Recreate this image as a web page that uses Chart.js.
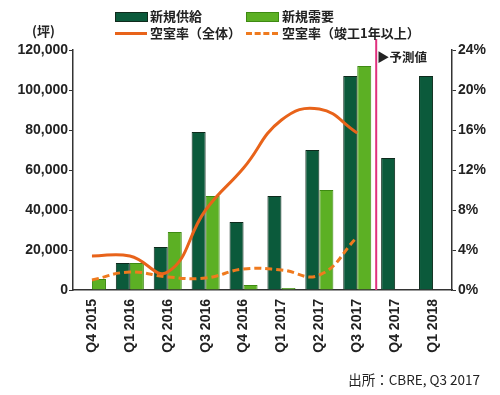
<!DOCTYPE html>
<html>
<head>
<meta charset="utf-8">
<script src="https://cdn.jsdelivr.net/npm/chart.js@4"></script>
<style>
  body { margin: 0; background: #fff; }
  #wrap { position: relative; width: 500px; height: 395px; font-family: "Noto Sans CJK JP", "Noto Sans", sans-serif; color: #222; }
  #chart { position: absolute; left: 0; top: 0; }
  .lg { position: absolute; font-size: 13px; font-weight: bold; line-height: 14px; white-space: nowrap; }
  .box { position: absolute; width: 32px; height: 9px; }
  .ln { position: absolute; width: 32px; height: 0; }
  .note { position: absolute; font-weight: bold; white-space: nowrap; }
</style>
</head>
<body>
<div id="wrap">
  <canvas id="chart" width="500" height="395"></canvas>

  <div class="box" style="left:115px; top:12px; background:#0b5a3b; border:1px solid #102a1c; width:31px; height:8px;"></div>
  <div class="lg" style="left:150px; top:9px;">新規供給</div>
  <div class="box" style="left:246px; top:12px; background:#5cb024; border:1px solid #3e8a12; width:31px; height:8px;"></div>
  <div class="lg" style="left:282px; top:9px;">新規需要</div>

  <div class="ln" style="left:115px; top:32px; border-top:3px solid #e8631a;"></div>
  <div class="lg" style="left:150px; top:26px;">空室率（全体）</div>
  <div class="ln" style="left:246px; top:32px; border-top:3px dashed #ef7a1e;"></div>
  <div class="lg" style="left:282px; top:26px;">空室率（竣工1年以上）</div>

  <div class="note" style="left:32px; top:21px; font-size:13px;">(坪)</div>
  <div class="note" style="left:377px; top:47px; font-size:12.5px;">▶予測値</div>
  <div class="note" style="right:20px; top:369px; font-size:13.5px; font-weight:normal; font-family:'Liberation Sans Narrow','Noto Sans CJK JP',sans-serif;">出所：CBRE, Q3 2017</div>
</div>

<script>
  const quarters = ['Q4 2015', 'Q1 2016', 'Q2 2016', 'Q3 2016', 'Q4 2016', 'Q1 2017', 'Q2 2017', 'Q3 2017', 'Q4 2017', 'Q1 2018'];
  const newSupply = [0, 13500, 21500, 79000, 34000, 47000, 70000, 107000, 66000, 107000];
  const newDemand = [5500, 13500, 29000, 47000, 2500, 1000, 50000, 112000, null, null];
  const vacancyAll = [3.4, 3.4, 1.8, 8.0, 12.2, 17.0, 18.1, 15.7, null, null];
  const vacancyOld = [1.0, 1.8, 1.3, 1.2, 2.1, 2.0, 1.5, 5.3, null, null];
  const leftTicks = [0, 20000, 40000, 60000, 80000, 100000, 120000];
  const rightTicks = [0, 4, 8, 12, 16, 20, 24];

  const tickFont = { family: 'Liberation Sans, sans-serif', size: 14, weight: 'bold' };

  // magenta divider between actual and forecast
  const forecastLine = {
    id: 'forecastLine',
    afterDatasetsDraw(chart) {
      let x = chart.scales.x;
      let px = (x.getPixelForValue(7) + x.getPixelForValue(8)) / 2;
      let ctx = chart.ctx;
      ctx.save();
      ctx.strokeStyle = '#e0307e';
      ctx.lineWidth = 2;
      ctx.beginPath();
      ctx.moveTo(px, 39);
      ctx.lineTo(px, chart.chartArea.bottom);
      ctx.stroke();
      ctx.restore();
    }
  };

  let chartConfig = {
    type: 'bar',
    data: {
      labels: quarters,
      datasets: [
        {
          type: 'line', label: '空室率（全体）', data: vacancyAll, yAxisID: 'y2',
          borderColor: '#e8631a', borderWidth: 3, pointRadius: 0, tension: 0.45,
          order: 0
        },
        {
          type: 'line', label: '空室率（竣工1年以上）', data: vacancyOld, yAxisID: 'y2',
          borderColor: '#ef7a1e', borderWidth: 3, borderDash: [7, 4], pointRadius: 0, tension: 0.45,
          order: 0
        },
        {
          label: '新規供給', data: newSupply, yAxisID: 'y',
          backgroundColor: '#0b5a3b', borderColor: '#0d2a1c', borderWidth: 1,
          barPercentage: 1, categoryPercentage: 0.74, order: 1
        },
        {
          label: '新規需要', data: newDemand, yAxisID: 'y',
          backgroundColor: '#5cb024', borderColor: '#3e8a12', borderWidth: 1,
          barPercentage: 1, categoryPercentage: 0.74, order: 1
        }
      ]
    },
    options: {
      responsive: false,
      animation: false,
      layout: { padding: { top: 50, left: 0, right: 0, bottom: 0 } },
      plugins: { legend: { display: false }, tooltip: { enabled: false } },
      scales: {
        x: {
          afterFit(scale) { scale.height = 105; },
          grid: { display: false, drawTicks: false },
          border: { color: '#333', width: 1.5 },
          ticks: { color: '#222', font: tickFont, minRotation: 90, maxRotation: 90, padding: 9 }
        },
        y: {
          position: 'left', min: 0, max: 120000,
          afterFit(scale) { scale.width = 73; },
          afterBuildTicks(scale) { scale.ticks = leftTicks.map(v => ({ value: v })); },
          grid: { drawOnChartArea: false, tickLength: 4, color: '#333' },
          border: { color: '#333', width: 1.5 },
          ticks: { color: '#222', font: tickFont, padding: 1, callback: v => v.toLocaleString('en-US') }
        },
        y2: {
          position: 'right', min: 0, max: 24,
          afterFit(scale) { scale.width = 48; },
          afterBuildTicks(scale) { scale.ticks = rightTicks.map(v => ({ value: v })); },
          grid: { drawOnChartArea: false, tickLength: 4, color: '#333' },
          border: { color: '#333', width: 1.5 },
          ticks: { color: '#222', font: tickFont, padding: 2, callback: v => v + '%' }
        }
      }
    },
    plugins: [forecastLine]
  };

  let ctx = document.getElementById('chart').getContext('2d');
  new Chart(ctx, chartConfig);
</script>
</body>
</html>
